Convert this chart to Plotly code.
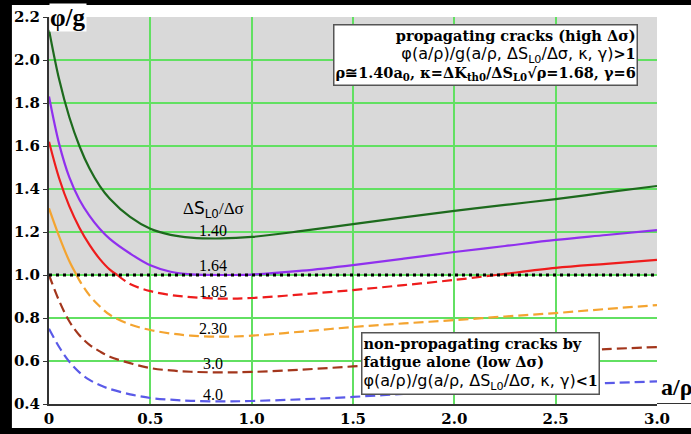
import plotly.graph_objects as go

# ---------------- data ----------------
x_vals = [0, 0.05, 0.1, 0.15, 0.2, 0.25, 0.3, 0.4, 0.5, 0.6, 0.7, 0.85, 1.0,
          1.25, 1.5, 1.75, 2.0, 2.25, 2.5, 2.75, 3.0]
s_140 = [2.14, 1.91, 1.735, 1.60, 1.495, 1.415, 1.355, 1.27, 1.215, 1.187, 1.174, 1.17, 1.177,
         1.205, 1.237, 1.268, 1.298, 1.326, 1.353, 1.384, 1.414]
s_164 = [1.83, 1.61, 1.455, 1.35, 1.275, 1.215, 1.168, 1.10, 1.045, 1.015, 1.003, 1.0, 1.002,
         1.02, 1.046, 1.076, 1.107, 1.135, 1.163, 1.186, 1.209]
s_185 = [1.62, 1.45, 1.32, 1.22, 1.14, 1.075, 1.025, 0.958, 0.925, 0.907, 0.897, 0.89, 0.893,
         0.91, 0.93, 0.953, 0.977, 1.005, 1.033, 1.052, 1.07]
s_230 = [1.31, 1.18, 1.065, 0.975, 0.905, 0.855, 0.815, 0.77, 0.744, 0.728, 0.718, 0.713, 0.718,
         0.737, 0.758, 0.775, 0.79, 0.807, 0.823, 0.842, 0.86]
s_300 = [1.0, 0.88, 0.785, 0.72, 0.675, 0.645, 0.62, 0.59, 0.567, 0.556, 0.55, 0.547, 0.549,
         0.56, 0.575, 0.593, 0.61, 0.627, 0.643, 0.655, 0.665]
s_400 = [0.75, 0.665, 0.597, 0.547, 0.512, 0.488, 0.47, 0.445, 0.428, 0.42, 0.415, 0.412, 0.414,
         0.422, 0.433, 0.447, 0.46, 0.474, 0.487, 0.497, 0.505]

series_names = ["1.40", "1.64", "1.85", "2.30", "3.0", "4.0"]
series_values = [s_140, s_164, s_185, s_230, s_300, s_400]
series_colors = ["#1d6a1d", "#9030ee", "#ee1c1c", "#f4a430", "#a3361c", "#5a5ae8"]
label_y = [1.205, 1.045, 0.925, 0.752, 0.59, 0.442]
label_x = 0.81

x_ticks = [0, 0.5, 1.0, 1.5, 2.0, 2.5, 3.0]
x_ticktext = ["0", "0.5", "1.0", "1.5", "2.0", "2.5", "3.0"]
y_ticks = [0.4, 0.6, 0.8, 1.0, 1.2, 1.4, 1.6, 1.8, 2.0, 2.2]
y_ticktext = ["0.4", "0.6", "0.8", "1.0", "1.2", "1.4", "1.6", "1.8", "2.0", "2.2"]
threshold = 1.0

SERIF = "Liberation Serif"
WSERIF = "DejaVu Serif"
SANS_SPAN = "<span style='font-family:DejaVu Sans;font-size:16px'>"


def split_runs(xs, ys, thr):
    runs = {True: [], False: []}
    side = ys[0] >= thr
    cur = [(xs[0], ys[0])]
    for i in range(1, len(xs)):
        s = ys[i] >= thr
        if s == side:
            cur.append((xs[i], ys[i]))
        else:
            x0, y0, x1, y1 = xs[i - 1], ys[i - 1], xs[i], ys[i]
            xc = x0 + (thr - y0) * (x1 - x0) / (y1 - y0)
            cur.append((xc, thr))
            runs[side].append(cur)
            cur = [(xc, thr), (xs[i], ys[i])]
            side = s
    runs[side].append(cur)
    out = {}
    for k, rl in runs.items():
        xx, yy = [], []
        for r in rl:
            if xx:
                xx.append(None)
                yy.append(None)
            xx += [p[0] for p in r]
            yy += [p[1] for p in r]
        out[k] = (xx, yy)
    return out


fig = go.Figure()

for name, vals, col in zip(series_names, series_values, series_colors):
    parts = split_runs(x_vals, vals, threshold)
    sx, sy = parts[True]
    dx, dy = parts[False]
    if sx:
        fig.add_trace(go.Scatter(x=sx, y=sy, mode="lines", name=name,
                                 line=dict(color=col, width=2.2, shape="spline", smoothing=1.0),
                                 connectgaps=False, hoverinfo="skip"))
    if dx:
        fig.add_trace(go.Scatter(x=dx, y=dy, mode="lines", name=name,
                                 line=dict(color=col, width=2.2, dash="10px,5px",
                                           shape="spline", smoothing=1.0),
                                 connectgaps=False, hoverinfo="skip"))

# dotted threshold line
fig.add_trace(go.Scatter(x=[x_ticks[0], x_ticks[-1]], y=[threshold, threshold], mode="lines",
                         line=dict(color="black", width=3, dash="3px,4px"), hoverinfo="skip"))

shapes = [
    dict(type="rect", xref="paper", yref="paper", x0=-0.061, x1=1.2, y0=-0.062, y1=1.031,
         fillcolor="white", line=dict(width=0), layer="below"),
    dict(type="rect", xref="x", yref="y", x0=0, x1=3, y0=threshold, y1=2.2,
         fillcolor="#d9d9d9", line=dict(width=0), layer="below"),
    dict(type="line", xref="paper", yref="y", x0=1.0, x1=1.2, y0=0.4, y1=0.4,
         line=dict(color="#333333", width=2)),
]

annotations = []
for name, ly in zip(series_names, label_y):
    annotations.append(dict(x=label_x, y=ly, xref="x", yref="y", text=name, showarrow=False,
                            font=dict(family=SERIF, size=16, color="black")))

annotations.append(dict(x=label_x, y=1.305, xref="x", yref="y", showarrow=False,
                        text="Δ<span style='font-family:DejaVu Sans'>S<sub>L0</sub></span>/Δσ",
                        font=dict(family=SERIF, size=17, color="black")))

annotations.append(dict(x=0, y=2.2, xref="x", yref="y", xanchor="left", yanchor="middle",
                        xshift=0, text="<b>φ/g</b>", showarrow=False, bgcolor="white",
                        borderpad=0, font=dict(family=SERIF, size=25, color="black")))

annotations.append(dict(x=1.003, y=0.043, xref="paper", yref="paper", xanchor="left",
                        yanchor="middle", text="<b>a/ρ</b>", showarrow=False,
                        font=dict(family=SERIF, size=24, color="black")))

top_text = ("<b>propagating cracks (high Δσ)</b><br>"
            + SANS_SPAN + "φ(a/ρ)/g(a/ρ, ΔS<sub>L0</sub>/Δσ, κ, γ)</span>"
            "<b>&gt;1</b><br>"
            "<b>ρ≅1.40a<sub>0</sub>, κ=ΔK<sub>th0</sub>/ΔS<sub>L0</sub>√ρ=1.68, γ=6</b>")
annotations.append(dict(x=0.9688, y=0.982, xref="paper", yref="paper", xanchor="right",
                        yanchor="top", align="right", text=top_text, showarrow=False,
                        bgcolor="white", bordercolor="#555555", borderwidth=1.5, borderpad=1,
                        font=dict(family=WSERIF, size=14.5, color="black")))

bot_text = ("<b>non-propagating cracks by</b><br>"
            "<b>fatigue alone (low Δσ)</b><br>"
            + SANS_SPAN + "φ(a/ρ)/g(a/ρ, ΔS<sub>L0</sub>/Δσ, κ, γ)</span>"
            "<b>&lt;1</b>")
annotations.append(dict(x=0.513, y=0.186, xref="paper", yref="paper", xanchor="left",
                        yanchor="top", align="left", text=bot_text, showarrow=False,
                        bgcolor="white", bordercolor="#555555", borderwidth=1.5, borderpad=1,
                        font=dict(family=WSERIF, size=14.5, color="black")))

fig.update_layout(
    width=691, height=434,
    margin=dict(l=49, r=34, t=17, b=30, autoexpand=False),
    paper_bgcolor="black", plot_bgcolor="rgba(0,0,0,0)",
    showlegend=False,
    shapes=shapes, annotations=annotations,
    xaxis=dict(range=[0, 3], tickvals=x_ticks, ticktext=["<b>%s</b>" % t for t in x_ticktext],
               showgrid=True, gridcolor="#62e062", gridwidth=1.5, zeroline=False, showline=True,
               linecolor="#333333", linewidth=2, ticks="", ticklen=0, automargin=False,
               tickfont=dict(family=WSERIF, size=15, color="black"), fixedrange=True),
    yaxis=dict(range=[0.4, 2.2], tickvals=y_ticks, ticktext=["<b>%s</b>" % t for t in y_ticktext],
               showgrid=True, gridcolor="#62e062", gridwidth=1.5, zeroline=False, showline=True,
               linecolor="#333333", linewidth=2, ticks="outside", ticklen=4, tickcolor="#333333",
               automargin=False,
               tickfont=dict(family=WSERIF, size=15, color="black"), fixedrange=True),
)

fig.write_html("out.html", config={"displayModeBar": False},
               post_script="document.body.style.margin='0';document.body.style.padding='0';")
